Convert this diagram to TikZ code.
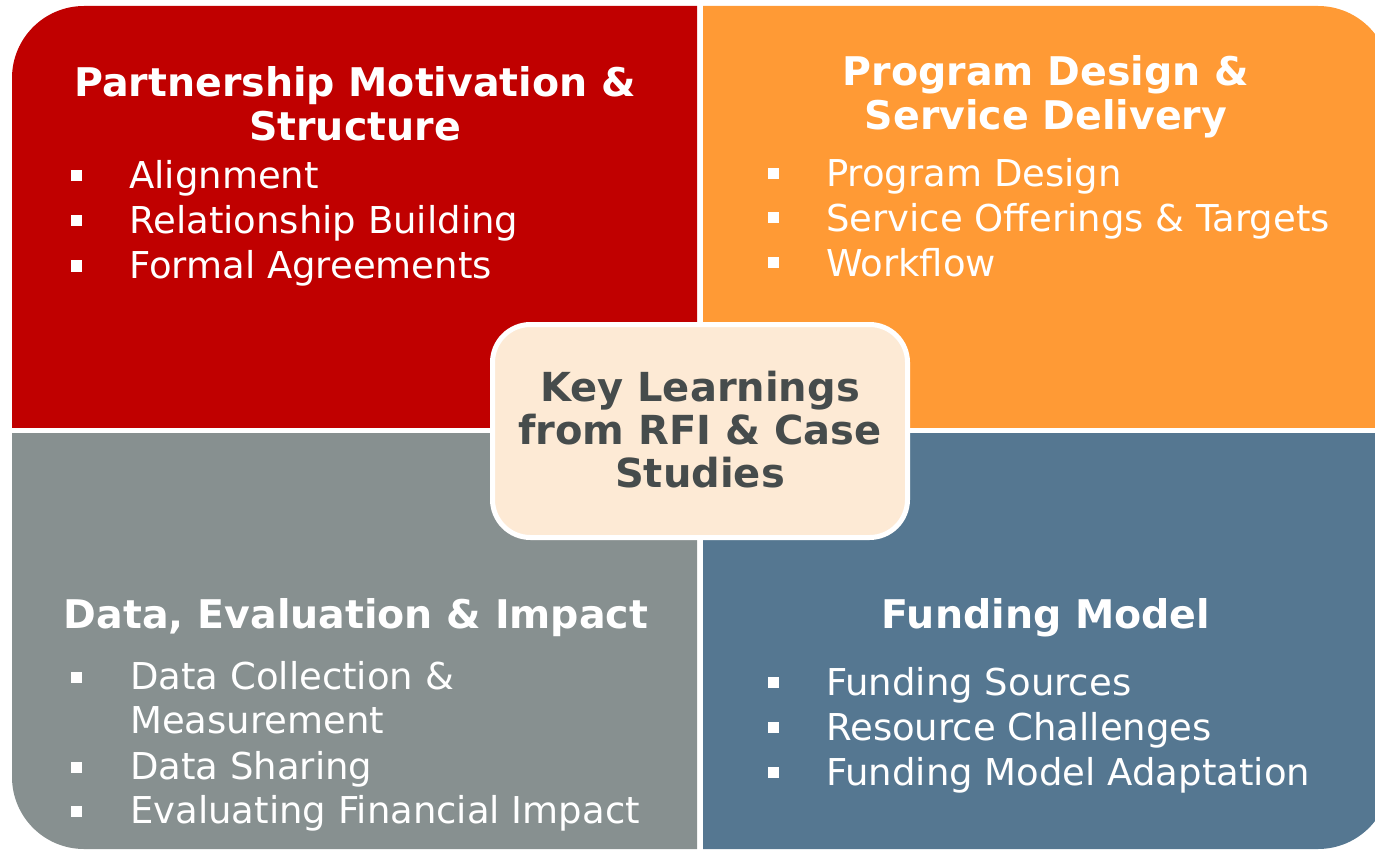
\documentclass[tikz,border=0pt]{standalone}
\usepackage{fontspec}
\setmainfont{DejaVu Sans}
\definecolor{qred}{HTML}{C00000}
\definecolor{qorange}{HTML}{FF9A35}
\definecolor{qgray}{HTML}{879090}
\definecolor{qblue}{HTML}{557791}
\definecolor{cfill}{HTML}{FDEAD5}
\definecolor{ctext}{HTML}{464C4C}
\tikzset{
  ttl/.style={anchor=base, text=white, inner sep=0pt, font=\fontsize{39.5}{44}\selectfont\bfseries},
  itm/.style={anchor=base west, text=white, inner sep=0pt, font=\fontsize{37}{45}\selectfont},
  sq/.style={fill=white, minimum size=11pt, inner sep=0pt},
  ctr/.style={anchor=base, text=ctext, inner sep=0pt, font=\fontsize{40}{43}\selectfont\bfseries},
}
\begin{document}
\begin{tikzpicture}[x=1pt,y=-1pt]
\useasboundingbox (0,0) rectangle (1375,850);
% quadrants
\begin{scope}\clip (12,6) rectangle (697,427);
  \fill[qred, rounded corners=72pt] (12,6) rectangle (900,700);\end{scope}
\begin{scope}\clip (703,6) rectangle (1390,427);
  \fill[qorange, rounded corners=72pt] (400,6) rectangle (1390,700);\end{scope}
\begin{scope}\clip (12,433) rectangle (697,849);
  \fill[qgray, rounded corners=72pt] (12,100) rectangle (900,849);\end{scope}
\begin{scope}\clip (703,433) rectangle (1390,849);
  \fill[qblue, rounded corners=72pt] (400,100) rectangle (1390,849);\end{scope}
% center box
\node[draw=white, line width=5pt, fill=cfill, rounded corners=38pt, minimum width=415pt, minimum height=213pt, inner sep=0pt] (center) at (700,431) {};
\node[ctr] (c1) at (700,401) {Key Learnings};
\node[ctr] (c2) at (700,444) {from RFI \& Case};
\node[ctr] (c3) at (700,487) {Studies};
% top-left
\node[ttl] (tl1) at (355,97) {Partnership Motivation \&};
\node[ttl] (tl2) at (355,141) {Structure};
\node[sq] (tlb1) at (76,176) {};
\node[itm] (tlt1) at (129,189) {Alignment};
\node[sq] (tlb2) at (76,220.5) {};
\node[itm] (tlt2) at (129,234) {Relationship Building};
\node[sq] (tlb3) at (76,266) {};
\node[itm] (tlt3) at (129,279) {Formal Agreements};
% top-right
\node[ttl] (tr1) at (1046,86) {Program Design \&};
\node[ttl] (tr2) at (1046,130) {Service Delivery};
\node[sq] (trb1) at (773.5,173.5) {};
\node[itm] (trt1) at (826,187) {Program Design};
\node[sq] (trb2) at (773.5,217.5) {};
\node[itm] (trt2) at (826,232) {Service Offerings \& Targets};
\node[sq] (trb3) at (773.5,262.5) {};
\node[itm] (trt3) at (826,276.5) {Workflow};
% bottom-left
\node[ttl] (bl1) at (356,628) {Data, Evaluation \& Impact};
\node[sq] (blb1) at (76,677.5) {};
\node[itm] (blt1) at (130,689.5) {Data Collection \&};
\node[itm] (blt1b) at (130,733.5) {Measurement};
\node[sq] (blb2) at (76,767.5) {};
\node[itm] (blt2) at (130,779) {Data Sharing};
\node[sq] (blb3) at (76,811) {};
\node[itm] (blt3) at (130,823) {Evaluating Financial Impact};
% bottom-right
\node[ttl] (br1) at (1046,628) {Funding Model};
\node[sq] (brb1) at (773.5,682) {};
\node[itm] (brt1) at (826,695) {Funding Sources};
\node[sq] (brb2) at (773.5,727) {};
\node[itm] (brt2) at (826,740) {Resource Challenges};
\node[sq] (brb3) at (773.5,772) {};
\node[itm] (brt3) at (826,785) {Funding Model Adaptation};
\end{tikzpicture}
\end{document}
